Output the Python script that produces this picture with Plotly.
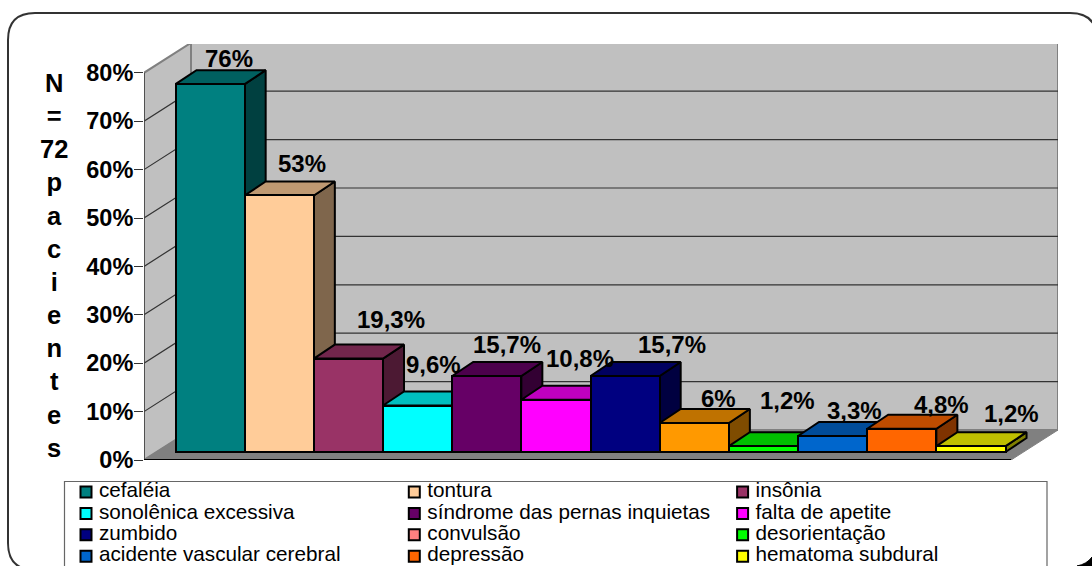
import plotly.graph_objects as go

W, H = 1092, 566

# --- data ---------------------------------------------------------------
categories = ["cefaléia", "tontura", "insônia", "sonolênica excessiva",
              "síndrome das pernas inquietas", "falta de apetite", "zumbido",
              "convulsão", "desorientação", "acidente vascular cerebral",
              "depressão", "hematoma subdural"]
values = [76, 53, 19.3, 9.6, 15.7, 10.8, 15.7, 6, 1.2, 3.3, 4.8, 1.2]
value_labels = ["76%", "53%", "19,3%", "9,6%", "15,7%", "10,8%", "15,7%",
                "6%", "1,2%", "3,3%", "4,8%", "1,2%"]
tick_values = [0, 10, 20, 30, 40, 50, 60, 70, 80]
tick_labels = ["0%", "10%", "20%", "30%", "40%", "50%", "60%", "70%", "80%"]
side_title = ["N", "=", "72", "p", "a", "c", "i", "e", "n", "t", "e", "s"]

# --- styles -------------------------------------------------------------
bar_colors = ["#008080", "#FFCC99", "#993366", "#00FFFF", "#660066", "#FF00FF",
              "#000080", "#FF9900", "#00FF00", "#0066CC", "#FF6600", "#FFFF00"]
legend_colors = list(bar_colors)
legend_colors[7] = "#FF8080"
label_dx = [19, 23, 43, 16, 20, 24, 47, 24, 24, 22, 40, 41]
label_dy = [26, 32, 39, 41, 32, 41, 32, 24, 46, 26, 24, 33]

FONT = "Liberation Sans"
px_x0, px_x1, px_y0, px_y1 = 144, 1058, 460, 44   # plot area in the page
px_bar0, px_unit = 175.5, 69.17                   # first bar left edge, bar width
px_per_pct = 4.84
x_lo = (px_x0 - px_bar0) / px_unit - 0.5
x_hi = (px_x1 - px_bar0) / px_unit - 0.5
y_hi = (px_y0 - px_y1) / px_per_pct

wall_dx, wall_dy = 47 / px_unit, 30 / px_per_pct
bar_dx, bar_dy = 21 / px_unit, 14 / px_per_pct
bar_base = 8 / px_per_pct


def shade(hex_color, k):
    r, g, b = (int(hex_color[i:i + 2], 16) for i in (1, 3, 5))
    return f"rgb({int(r * k)},{int(g * k)},{int(b * k)})"


fig = go.Figure()


def poly(xs, ys, fill, line="#000000", lw=2):
    fig.add_trace(go.Scatter(
        x=xs + xs[:1], y=ys + ys[:1], mode="lines", fill="toself", fillcolor=fill,
        line=dict(color=line, width=lw), hoverinfo="skip", showlegend=False,
        cliponaxis=False, xaxis="x", yaxis="y"))


def seg(xs, ys, color, lw):
    fig.add_trace(go.Scatter(
        x=xs, y=ys, mode="lines", line=dict(color=color, width=lw),
        hoverinfo="skip", showlegend=False, cliponaxis=False, xaxis="x", yaxis="y"))


top = tick_values[-1]
x_front_right = x_hi - wall_dx
# walls and floor
poly([x_lo + wall_dx, x_hi, x_hi, x_lo + wall_dx],
     [wall_dy, wall_dy, top + wall_dy, top + wall_dy], "#C0C0C0", "#808080", 2)
poly([x_lo, x_lo + wall_dx, x_lo + wall_dx, x_lo],
     [0, wall_dy, top + wall_dy, top], "#C0C0C0", "#808080", 2)
poly([x_lo, x_front_right, x_hi, x_lo + wall_dx], [0, 0, wall_dy, wall_dy], "#808080", "#808080", 1)
# gridlines
for t in tick_values[1:-1]:
    seg([x_lo, x_lo + wall_dx, x_hi], [t, t + wall_dy, t + wall_dy], "#333333", 1.2)
seg([x_lo, x_lo], [0, top], "#404040", 1.5)
seg([x_lo, x_front_right], [0, 0], "#000000", 2)

# top and right faces, painted left to right
for i, v in enumerate(values):
    l, r = i - 0.5, i + 0.5
    yt = bar_base + v
    poly([r, r + bar_dx, r + bar_dx, r], [bar_base, bar_base + bar_dy, yt + bar_dy, yt],
         shade(bar_colors[i], 0.5))
    poly([l, r, r + bar_dx, l + bar_dx], [yt, yt, yt + bar_dy, yt + bar_dy],
         shade(bar_colors[i], 0.75))

# front faces on an overlay so they cover the neighbours' right faces
fig.add_trace(go.Bar(
    x=list(range(len(values))), y=values, base=[bar_base] * len(values), width=1,
    marker=dict(color=bar_colors, line=dict(color="#000000", width=2)),
    hovertext=categories, hoverinfo="text", showlegend=False,
    cliponaxis=False, xaxis="x2", yaxis="y2"))

# legend grid
n_cols = 3
leg_col, leg_row = 328.3, 21.4
leg_x = [i % n_cols for i in range(len(categories))]
leg_y = [i // n_cols for i in range(len(categories))]
fig.add_trace(go.Scatter(
    x=leg_x, y=leg_y, mode="markers",
    marker=dict(symbol="square", size=11, color=legend_colors,
                line=dict(color="#000000", width=2)),
    hoverinfo="skip", showlegend=False, cliponaxis=False, xaxis="x3", yaxis="y3"))
fig.add_trace(go.Scatter(
    x=[c + 13 / leg_col for c in leg_x], y=leg_y, mode="text", text=categories,
    textposition="middle right",
    textfont=dict(family=FONT, size=20.7, color="#000000"),
    hoverinfo="skip", showlegend=False, cliponaxis=False, xaxis="x3", yaxis="y3"))

leg_l, leg_r, leg_t = 64.5, 1047, 481.5
hidden = dict(visible=False, fixedrange=True, automargin=False)
fig.update_layout(
    width=W, height=H, autosize=False, margin=dict(l=0, r=0, t=0, b=0),
    paper_bgcolor="white", plot_bgcolor="rgba(0,0,0,0)", bargap=0, showlegend=False,
    font=dict(family=FONT, color="#000000"),
    xaxis=dict(domain=[px_x0 / W, px_x1 / W], range=[x_lo, x_hi], **hidden),
    yaxis=dict(domain=[(H - px_y0) / H, (H - px_y1) / H], range=[0, y_hi],
               automargin=False,
               tickmode="array", tickvals=tick_values, ticktext=tick_labels,
               ticks="outside", ticklen=9, tickwidth=1.2, tickcolor="#333333",
               ticklabelstandoff=-4,
               tickfont=dict(family=FONT, size=23.5, color="#000000", weight="bold"),
               showgrid=False, zeroline=False, showline=False, fixedrange=True),
    xaxis2=dict(overlaying="x", range=[x_lo, x_hi], **hidden),
    yaxis2=dict(overlaying="y", range=[0, y_hi], **hidden),
    xaxis3=dict(domain=[leg_l / W, leg_r / W],
                range=[(leg_l - 86) / leg_col, (leg_r - 86) / leg_col], anchor="y3", **hidden),
    yaxis3=dict(domain=[0, (H - leg_t) / H],
                range=[(H - 492) / leg_row, (leg_t - 492) / leg_row], anchor="x3", **hidden),
)


def px(x):
    return x / W


def py(y):
    return 1 - y / H


frame = (f"M {px(8)},{py(40)} Q {px(8)},{py(13)} {px(35)},{py(13)} "
         f"L {px(1070)},{py(13)} Q {px(1097)},{py(13)} {px(1097)},{py(40)} "
         f"L {px(1097)},{py(543)} Q {px(1097)},{py(570)} {px(1070)},{py(570)} "
         f"L {px(35)},{py(570)} Q {px(8)},{py(570)} {px(8)},{py(543)} Z")
legend_box = (f"M {px(leg_l)},{py(570)} L {px(leg_l)},{py(leg_t)} "
              f"L {px(leg_r)},{py(leg_t)} L {px(leg_r)},{py(570)}")
corner = (f"M {px(1077)},{py(566)} Q {px(1087)},{py(564)} {px(1092)},{py(557)} "
          f"L {px(1092)},{py(566)} Z")
fig.add_shape(type="path", path=frame, xref="paper", yref="paper",
              line=dict(color="#333333", width=2), layer="below")
fig.add_shape(type="path", path=legend_box, xref="paper", yref="paper",
              line=dict(color="#666666", width=1.2), layer="below")
fig.add_shape(type="path", path=corner, xref="paper", yref="paper",
              fillcolor="#000000", line=dict(color="#000000", width=1), layer="below")

# value labels
for i, v in enumerate(values):
    fig.add_annotation(x=i, y=bar_base + v, xref="x2", yref="y2", text=value_labels[i],
                       showarrow=False, xanchor="center", yanchor="middle",
                       xshift=label_dx[i], yshift=label_dy[i],
                       font=dict(family=FONT, size=24, color="#000000", weight="bold"))

# stacked side title
fig.add_annotation(x=px(54), y=py(265.5), xref="paper", yref="paper",
                   text="<br>".join(side_title), showarrow=False, align="center",
                   xanchor="center", yanchor="middle",
                   font=dict(family=FONT, size=25.5, color="#000000", weight="bold"))

fig.write_html("out.html", config=dict(displayModeBar=False),
               post_script="document.body.style.margin='0';document.body.style.overflow='hidden';")
